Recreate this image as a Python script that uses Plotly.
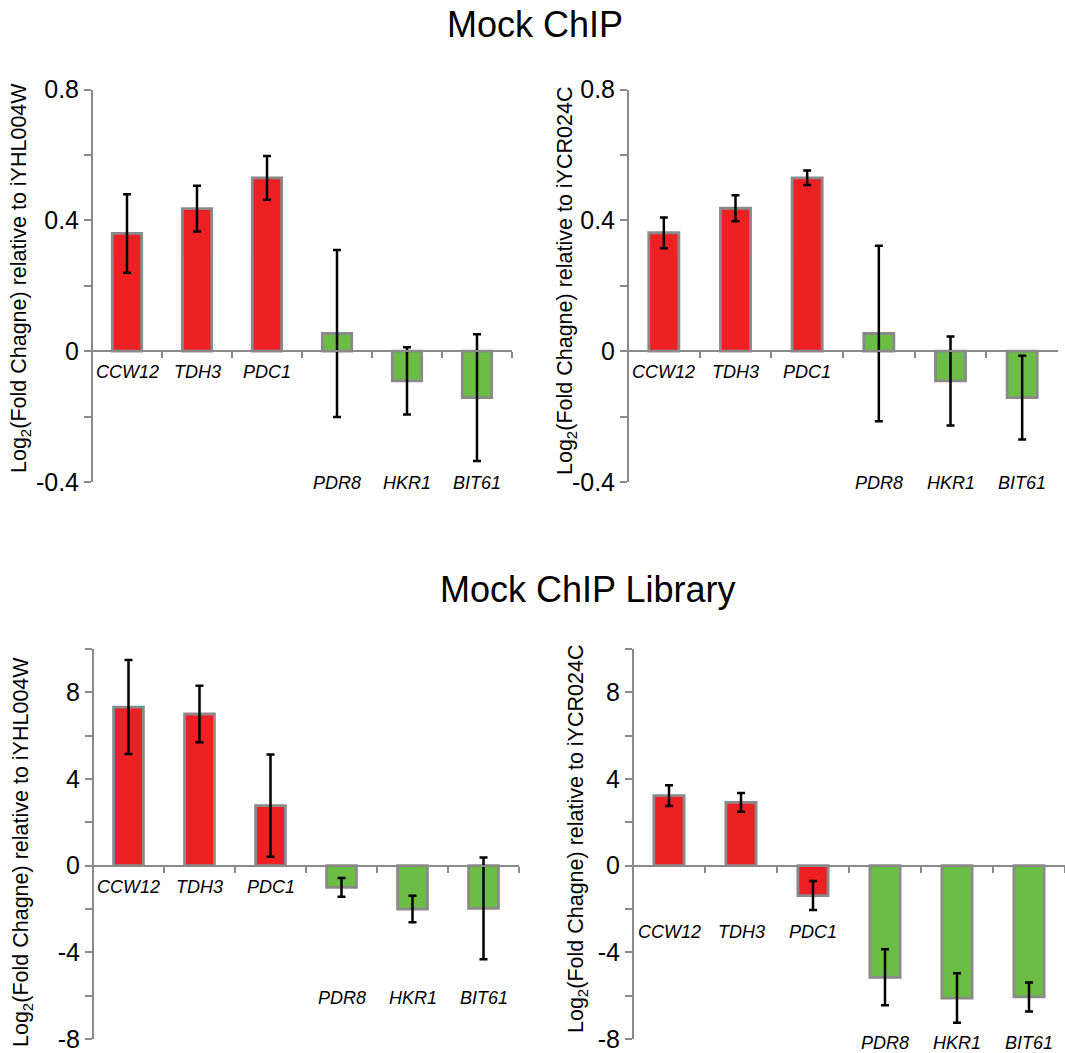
import plotly.graph_objects as go

# ---------------- data ----------------
genes = ["CCW12", "TDH3", "PDC1", "PDR8", "HKR1", "BIT61"]
groups = ["up", "up", "up", "down", "down", "down"]

chip_yhl = [0.36, 0.436, 0.53, 0.054, -0.091, -0.142]
chip_yhl_err = [0.12, 0.07, 0.067, 0.255, 0.103, 0.194]

chip_ycr = [0.362, 0.437, 0.53, 0.054, -0.091, -0.142]
chip_ycr_err = [0.047, 0.04, 0.022, 0.268, 0.136, 0.128]

lib_yhl = [7.32, 7.0, 2.77, -1.0, -2.0, -1.97]
lib_yhl_err = [2.17, 1.3, 2.36, 0.43, 0.61, 2.35]

lib_ycr = [3.23, 2.92, -1.38, -5.15, -6.11, -6.06]
lib_ycr_err = [0.48, 0.43, 0.67, 1.29, 1.14, 0.67]

chip_tickvals = [-0.4, 0, 0.4, 0.8]
chip_ticktext = ["-0.4", "0", "0.4", "0.8"]
chip_minor = [-0.2, 0.2, 0.6]
lib_tickvals = [-8, -4, 0, 4, 8]
lib_ticktext = ["-8", "-4", "0", "4", "8"]
lib_minor = [-6, -2, 2, 6, 10]

titles = ["Mock ChIP", "Mock ChIP Library"]
ytitle_yhl = "Log<sub>2</sub>(Fold Chagne) relative to iYHL004W"
ytitle_ycr = "Log<sub>2</sub>(Fold Chagne) relative to iYCR024C"

# ---------------- style ----------------
W, H = 1065, 1053
RED = "#ED2024"
GREEN = "#6BBD45"
GRAY = "#8A8A8A"
FONT = "Liberation Sans, Arial, sans-serif"
color_map = {"up": RED, "down": GREEN}


def px_x(p):
    return p / W


def px_y(p):
    return 1 - p / H


panels = [
    dict(vals=chip_yhl, err=chip_yhl_err, xdom=(92, 512), ydom=(482, 89.5),
         rng=(-0.4, 0.8), tv=chip_tickvals, tt=chip_ticktext, mv=chip_minor,
         ytitle=ytitle_yhl, tpos=(21, 278), shifts={"up": -21, "down": -132}),
    dict(vals=chip_ycr, err=chip_ycr_err, xdom=(628, 1058), ydom=(482, 89.5),
         rng=(-0.4, 0.8), tv=chip_tickvals, tt=chip_ticktext, mv=chip_minor,
         ytitle=ytitle_ycr, tpos=(566, 281), shifts={"up": -21, "down": -132}),
    dict(vals=lib_yhl, err=lib_yhl_err, xdom=(93, 519), ydom=(1039, 649),
         rng=(-8, 10), tv=lib_tickvals, tt=lib_ticktext, mv=lib_minor,
         ytitle=ytitle_yhl, tpos=(22, 852), shifts={"up": -21, "down": -132}),
    dict(vals=lib_ycr, err=lib_ycr_err, xdom=(633, 1065), ydom=(1039, 649),
         rng=(-8, 10), tv=lib_tickvals, tt=lib_ticktext, mv=lib_minor,
         ytitle=ytitle_ycr, tpos=(577, 839), shifts={"up": -66, "down": -177}),
]

fig = go.Figure()
annotations = []
layout_axes = {}

for i, p in enumerate(panels, start=1):
    xa = "x" if i == 1 else f"x{i}"
    ya = "y" if i == 1 else f"y{i}"
    xkey = "xaxis" if i == 1 else f"xaxis{i}"
    ykey = "yaxis" if i == 1 else f"yaxis{i}"

    fig.add_trace(go.Bar(
        x=genes, y=p["vals"], xaxis=xa, yaxis=ya, width=0.42,
        marker=dict(color=[color_map[g] for g in groups],
                    line=dict(color=GRAY, width=2.8)),
        error_y=dict(type="data", array=p["err"], visible=True,
                     color="black", thickness=2.5, width=4),
        showlegend=False, hoverinfo="x+y",
    ))

    y0, y1 = px_y(p["ydom"][0]), px_y(p["ydom"][1])
    lo, hi = p["rng"]
    zero_pos = y0 + (y1 - y0) * (0 - lo) / (hi - lo)

    layout_axes[xkey] = dict(
        domain=[px_x(p["xdom"][0]), px_x(p["xdom"][1])],
        anchor="free", position=zero_pos, type="category",
        range=[-0.5, 5.5], tickson="boundaries", ticks="outside",
        ticklen=6, tickwidth=2, tickcolor=GRAY, showline=True,
        linecolor=GRAY, linewidth=2, showticklabels=False,
        showgrid=False, zeroline=False, fixedrange=True, automargin=False,
    )
    layout_axes[ykey] = dict(
        domain=[y0, y1], anchor="free", position=px_x(p["xdom"][0]),
        range=[lo, hi], tickmode="array", tickvals=p["tv"], ticktext=p["tt"],
        ticks="outside", ticklen=7, tickwidth=2, tickcolor=GRAY,
        minor=dict(tickmode="array", tickvals=p["mv"], ticks="outside",
                   ticklen=7, tickwidth=2, tickcolor=GRAY),
        showline=True, linecolor=GRAY, linewidth=2, showgrid=False,
        zeroline=False, tickfont=dict(family=FONT, size=25, color="black"),
        fixedrange=True, automargin=False,
    )

    for g, grp in zip(genes, groups):
        annotations.append(dict(
            x=g, y=0, xref=xa, yref=ya, text=f"<i>{g}</i>", showarrow=False,
            yanchor="middle", xanchor="center", yshift=p["shifts"][grp],
            font=dict(family=FONT, size=18, color="black"),
        ))

    annotations.append(dict(
        x=px_x(p["tpos"][0]), y=px_y(p["tpos"][1]), xref="paper", yref="paper",
        text=p["ytitle"], textangle=-90, showarrow=False,
        xanchor="center", yanchor="middle",
        font=dict(family=FONT, size=21.5, color="black"),
    ))

annotations.append(dict(
    x=px_x(535), y=px_y(25), xref="paper", yref="paper", text=titles[0],
    showarrow=False, xanchor="center", yanchor="middle",
    font=dict(family=FONT, size=36, color="black"),
))
annotations.append(dict(
    x=px_x(587), y=px_y(589), xref="paper", yref="paper", text=titles[1],
    showarrow=False, xanchor="center", yanchor="middle",
    font=dict(family=FONT, size=36, color="black"),
))

fig.update_layout(
    width=W, height=H,
    margin=dict(l=0, r=0, t=0, b=0, pad=0, autoexpand=False),
    paper_bgcolor="white", plot_bgcolor="white",
    annotations=annotations, bargap=0.58,
    font=dict(family=FONT, color="black"),
    **layout_axes,
)

fig.write_html("out.html")
